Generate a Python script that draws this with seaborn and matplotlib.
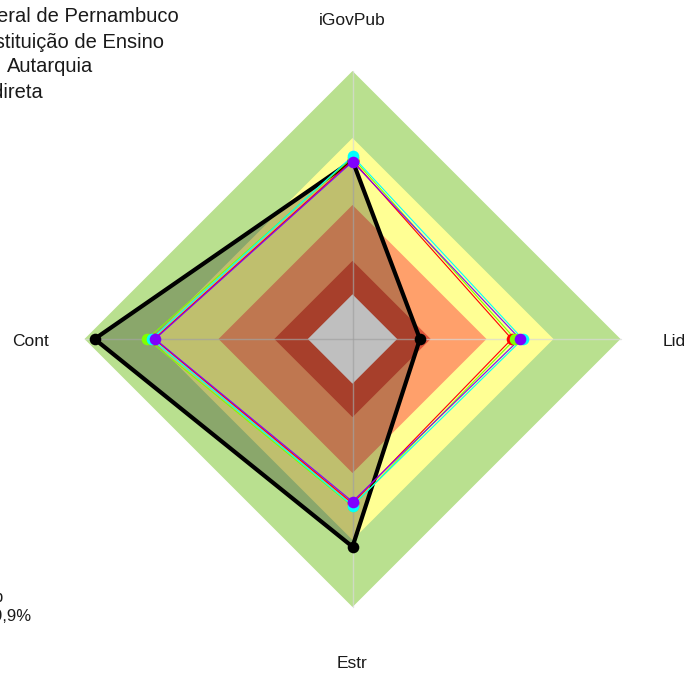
import numpy as np
import pandas as pd
import matplotlib
matplotlib.use("Agg")
import matplotlib.pyplot as plt
import seaborn as sns

# ---------------- data ----------------
eixos = ["iGovPub", "Lid", "Estr", "Cont"]
angulos = [90, 0, -90, 180]

series = ["Instituto Federal de Pernambuco", "Média Geral", "Média Instituição de Ensino",
          "Média Autarquia", "Média Administração Indireta"]
cores_series = ["#000000", "#FF0000", "#80FF00", "#00FFFF", "#8000FF"]

val_ifpe = [0.599, 0.102, 0.730, 0.955]
val_geral = [0.600, 0.513, 0.536, 0.688]
val_ensino = [0.612, 0.528, 0.549, 0.719]
val_autarquia = [0.619, 0.562, 0.546, 0.699]
val_indireta = [0.594, 0.550, 0.528, 0.684]

faixas = [1.00, 0.70, 0.40, 0.15, 0.00]
cores_faixas = ["#B9E08F", "#FFFF94", "#FFA06B", "#E0553A", "#FFFFFF"]

legenda_txt = ["Instituto Federal de Pernambuco", "Instituição de Ensino",
               "Autarquia", "Administração Indireta"]
legenda_fim_px = [179, 164, 93, 43]
legenda_y_px = [17, 42, 67, 92]
rodape_txt = ["Resultado iGovPub", "Índice: 59,9%"]
rodape_fim_px = [3, 31]
rodape_y_px = [597, 616]

centro = -0.2


def raio(v):
    return (np.asarray(v, dtype=float) - centro) / (1 - centro)


ang = np.deg2rad(angulos)

W, H = 688, 673
cx, cy, R = 352.5, 339.0, 268.0

sns.set_theme(style="white")
plt.rcParams["font.family"] = ["Liberation Sans", "DejaVu Sans"]

fig = plt.figure(figsize=(W / 100, H / 100), dpi=100)
ax = fig.add_axes([0, 0, 1, 1])
ax.axis("off")

# background bands
for lim, cor in zip(faixas, cores_faixas):
    r = raio([lim] * 4)
    ax.fill(r * np.cos(ang), r * np.sin(ang), color=cor, lw=0, zorder=1)

# spokes
for a in ang:
    ax.plot([0, np.cos(a)], [0, np.sin(a)], color="#d9d9d9", lw=1.0, alpha=0.7, zorder=2)

valores = [val_ifpe, val_geral, val_ensino, val_autarquia, val_indireta]
linhas = []
for nome, vals in zip(series, valores):
    r = raio(vals)
    xs = r * np.cos(ang)
    ys = r * np.sin(ang)
    for i in list(range(4)) + [0]:
        linhas.append({"serie": nome, "eixo": eixos[i], "x": xs[i], "y": ys[i]})
df = pd.DataFrame(linhas)

# fill of main series
d0 = df[df.serie == series[0]]
ax.fill(d0.x, d0.y, color="black", alpha=0.25, lw=0, zorder=3)

paleta = dict(zip(series, cores_series))
for nome in series:
    d = df[df.serie == nome]
    sns.lineplot(data=d, x="x", y="y", sort=False, estimator=None, color=paleta[nome],
                 lw=3.0 if nome == series[0] else 0.8, ax=ax, zorder=4, legend=False)

pts = df.groupby("serie", sort=False).head(4)
for nome in series:
    d = pts[pts.serie == nome]
    sns.scatterplot(data=d, x="x", y="y", color=paleta[nome], s=70, linewidth=0,
                    ax=ax, zorder=5, legend=False)

ax.set_xlim(-cx / R, (W - cx) / R)
ax.set_ylim(-(H - cy) / R, cy / R)
ax.set_xlabel("")
ax.set_ylabel("")

# axis labels
for nome, a in zip(eixos, ang):
    ax.text(1.2 * np.cos(a), 1.2 * np.sin(a) - 0.01, nome,
            ha="center", va="center", fontsize=12.5, color="#1a1a1a", zorder=6)

for t, xe, yp in zip(legenda_txt, legenda_fim_px, legenda_y_px):
    fig.text(xe / W, 1 - yp / H, t, ha="right", va="center", fontsize=14.5, color="#1a1a1a")

for t, xe, yp in zip(rodape_txt, rodape_fim_px, rodape_y_px):
    fig.text(xe / W, 1 - yp / H, t, ha="right", va="center", fontsize=12, color="#1a1a1a")

fig.savefig("out.png", dpi=100)
